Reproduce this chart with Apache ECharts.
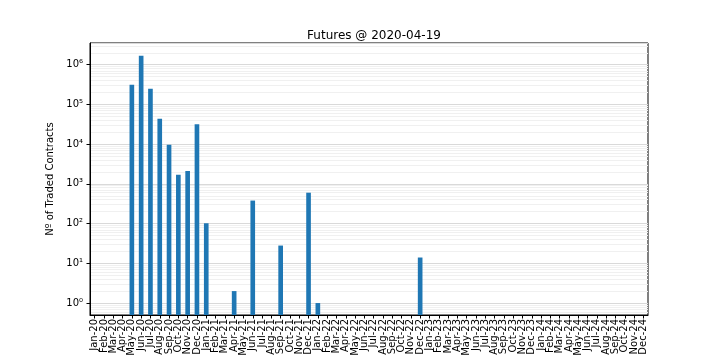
<!DOCTYPE html>
<html>
<head>
<meta charset="utf-8">
<script src="https://cdn.jsdelivr.net/npm/echarts@6/dist/echarts.min.js"></script>
<style>html,body{margin:0;padding:0;background:#fff}#c{width:720px;height:360px}</style>
</head>
<body>
<div id="c"></div>
<script>
const months = ['Jan','Feb','Mar','Apr','May','Jun','Jul','Aug','Sep','Oct','Nov','Dec'];
const years = ['20','21','22','23','24'];
const categories = [];
years.forEach(y => months.forEach(m => categories.push(m + '-' + y)));

const tradedMonths = ['May-20','Jun-20','Jul-20','Aug-20','Sep-20','Oct-20','Nov-20','Dec-20','Jan-21','Apr-21','Jun-21','Sep-21','Dec-21','Jan-22','Dec-22'];
const tradedValues = [313000, 1690000, 248000, 43600, 9600, 1690, 2120, 31900, 102, 2, 380, 28, 600, 1, 14];

const yTickLabels = {0:'10⁰',1:'10¹',2:'10²',3:'10³',4:'10⁴',5:'10⁵',6:'10⁶'};

const barData = tradedMonths.map((m, i) => [categories.indexOf(m), tradedValues[i]]);

const yMin = 0.5, yMax = 3520000;
const minorValues = [];
for (let k = -1; k <= 6; k++) {
  for (let m = 2; m <= 9; m++) {
    const v = m * Math.pow(10, k);
    if (v > yMin && v < yMax) minorValues.push(v);
  }
}

const chart = echarts.init(document.getElementById('c'), null, {renderer: 'canvas'});
chart.setOption({
  animation: false,
  textStyle: {fontFamily: 'DejaVu Sans'},
  title: {
    text: 'Futures @ 2020-04-19',
    left: 369, top: 25, textAlign: 'center',
    textStyle: {fontFamily: 'DejaVu Sans', fontSize: 12, fontWeight: 'normal', color: '#000'}
  },
  grid: {left: 90, right: 72, top: 43, bottom: 45, show: true, borderColor: '#000', borderWidth: 1, backgroundColor: 'transparent'},
  xAxis: {
    type: 'category',
    data: categories,
    boundaryGap: true,
    axisLine: {show: true, lineStyle: {color: '#000', width: 1}},
    axisTick: {show: true, alignWithLabel: true, length: 3.5, lineStyle: {color: '#000'}},
    axisLabel: {interval: 0, rotate: 90, fontSize: 10, color: '#000', margin: 4, fontFamily: 'DejaVu Sans'},
    splitLine: {show: false}
  },
  yAxis: {
    type: 'log',
    logBase: 10,
    min: yMin, max: yMax,
    name: 'Nº of Traded Contracts',
    nameLocation: 'middle',
    nameGap: 33,
    nameTextStyle: {fontSize: 10, color: '#000', fontFamily: 'DejaVu Sans'},
    axisLine: {show: true, lineStyle: {color: '#000'}},
    axisTick: {show: true, length: 3.5, lineStyle: {color: '#000'}},
    axisLabel: {
      fontSize: 10, color: '#000', margin: 7, fontFamily: 'DejaVu Sans',
      showMinLabel: false, showMaxLabel: false,
      formatter: v => {
        const e = Math.round(Math.log10(v));
        if (Math.abs(Math.log10(v) - e) > 1e-6) return '';
        return yTickLabels[e] !== undefined ? yTickLabels[e] : '';
      }
    },
    splitLine: {show: true, lineStyle: {color: '#d9d9d9', width: 1}}
  },
  series: [{
    type: 'custom',
    data: barData,
    encode: {x: 0, y: 1},
    clip: true,
    renderItem: (params, api) => {
      const top = api.coord([api.value(0), api.value(1)]);
      const bottom = api.coord([api.value(0), yMin]);
      const w = api.size([1, 1])[0] * 0.5;
      return {
        type: 'rect',
        shape: {x: top[0] - w / 2, y: top[1], width: w, height: bottom[1] - top[1]},
        style: {fill: '#1f77b4'}
      };
    },
    markLine: {
      silent: true,
      symbol: 'none',
      label: {show: false},
      lineStyle: {color: '#f0f0f0', width: 1, type: 'solid'},
      z: 0,
      data: minorValues.map(v => ({yAxis: v}))
    }
  }]
});
</script>
</body>
</html>
